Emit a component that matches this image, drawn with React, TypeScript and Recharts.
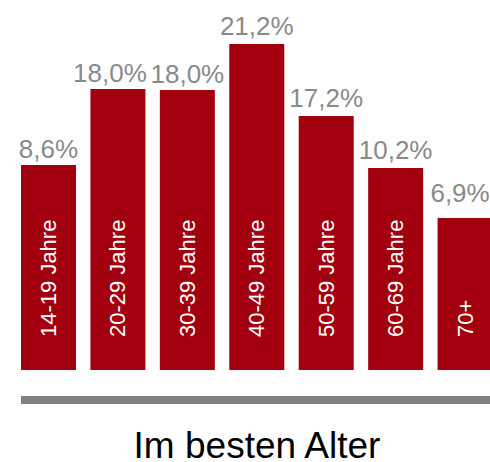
import { BarChart, Bar, XAxis, YAxis, LabelList } from "recharts";

// Age groups shown inside the bars
const ageGroups = ["14-19 Jahre", "20-29 Jahre", "30-39 Jahre", "40-49 Jahre", "50-59 Jahre", "60-69 Jahre", "70+"];
// Share labels printed above the bars
const shareLabels = ["8,6%", "18,0%", "18,0%", "21,2%", "17,2%", "10,2%", "6,9%"];
// Drawn bar heights (relative units - the graphic is not to scale)
const barHeights = [205, 281, 280, 326, 254, 202, 152];

const data = ageGroups.map((g, i) => ({ group: g, label: shareLabels[i], h: barHeights[i] }));

const FONT = "'Liberation Sans', Arial, sans-serif";

// small hand nudges for labels that crowd a neighbour or the edge, as in the original
const topLabelDx = (i: number) => (i === 1 ? -8 : i === 6 ? -5 : 0);
const topLabelGap = (i: number) => (i === 6 ? 16 : i >= 3 ? 9 : 7);

const TopLabel = (props: any) => {
  const { x, y, width, value, index } = props;
  return (
    <text
      x={x + width / 2 + topLabelDx(index)}
      y={y - topLabelGap(index)}
      textAnchor="middle"
      fill="#8a8a8a"
      fontSize={26}
      fontFamily={FONT}
    >
      {value}
    </text>
  );
};

const InnerLabel = (props: any) => {
  const { x, y, width, height, value } = props;
  const cx = x + width / 2;
  const cy = y + height - 33;
  return (
    <text
      x={cx}
      y={cy}
      transform={`rotate(-90 ${cx} ${cy})`}
      textAnchor="start"
      dominantBaseline="central"
      fill="#ffffff"
      fontSize={22}
      fontFamily={FONT}
    >
      {value}
    </text>
  );
};

const App = () => {
  return (
    <div style={{ position: "fixed", left: 0, top: 0, width: 490, height: 462, overflow: "hidden", background: "#fff" }}>
      <BarChart width={502} height={462} data={data} margin={{ top: 44, right: 2, left: 14, bottom: 92 }}>
        <XAxis dataKey="group" hide />
        <YAxis domain={[0, 326]} hide />
        <Bar dataKey="h" fill="#a3000f" barSize={55} isAnimationActive={false}>
          <LabelList dataKey="label" content={TopLabel} />
          <LabelList dataKey="group" content={InnerLabel} />
        </Bar>
      </BarChart>
      <div style={{ position: "absolute", left: 21, top: 396, width: 469, height: 8, background: "#808080" }} />
      <div
        style={{
          position: "absolute",
          left: 12,
          top: 432,
          width: 490,
          textAlign: "center",
          fontFamily: FONT,
          fontSize: 37,
          lineHeight: "28px",
          color: "#000",
        }}
      >
        Im besten Alter
      </div>
    </div>
  );
};

export default App;
